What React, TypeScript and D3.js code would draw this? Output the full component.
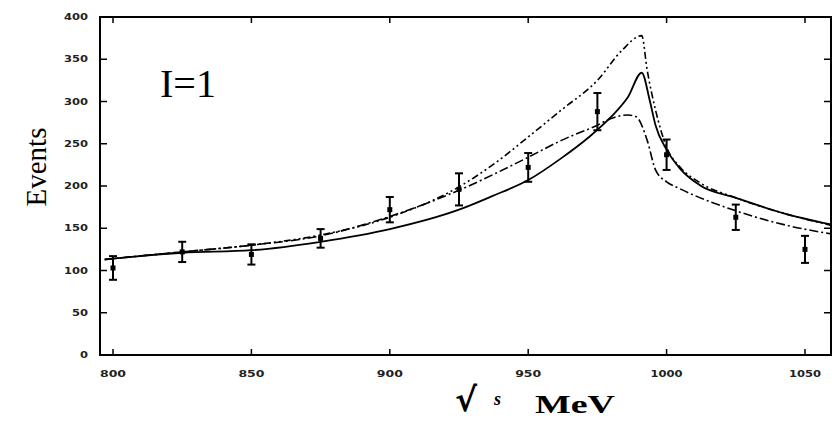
import React from "react";
import * as d3 from "d3";

// measured points (sqrt(s) in MeV, events, error)
const energies = [800, 825, 850, 875, 900, 925, 950, 975, 1000, 1025, 1050];
const events = [103, 122, 119, 138, 172, 196, 222, 288, 237, 163, 125];
const errors = [14, 12, 12, 11, 15, 19, 17, 22, 18, 15, 16];

// fit curves
const solidX = [797, 800, 825, 850, 875, 900, 925, 937, 950, 962, 972, 980, 986, 991, 994, 996, 1000, 1005, 1012, 1025, 1042, 1060];
const solidY = [113, 114, 121, 124, 134, 149, 172, 188, 207, 233, 258, 282, 305, 334, 300, 272, 243, 220, 201, 186, 168, 154];

const dashDotDotX = [797, 800, 825, 850, 875, 900, 925, 938, 950, 962, 975, 984, 991, 993, 996, 1000, 1005, 1012, 1025, 1042, 1060];
const dashDotDotY = [113, 114, 122, 130, 142, 163, 199, 227, 258, 290, 325, 361, 378, 337, 290, 246, 222, 204, 186, 168, 153];

const dashDotX = [797, 800, 825, 850, 875, 900, 925, 950, 962, 975, 980, 986, 989, 993, 996, 1000, 1004, 1010, 1022, 1044, 1060];
const dashDotY = [113, 114, 122, 130, 141, 164, 195, 234, 254, 272, 280, 284, 282, 254, 219, 205, 198, 189, 174, 153, 143];

const xTicks = [800, 850, 900, 950, 1000, 1050];
const yTicks = [0, 50, 100, 150, 200, 250, 300, 350, 400];

const W = 832;
const H = 422;
const margin = { left: 100, right: 1, top: 17, bottom: 67 };

const App: React.FC = () => {
  const x = d3
    .scaleLinear()
    .domain([795.3, 1059.4])
    .range([margin.left, W - margin.right]);
  const y = d3
    .scaleLinear()
    .domain([0, 400])
    .range([H - margin.bottom, margin.top]);

  const line = d3
    .line<[number, number]>()
    .x((d) => x(d[0]))
    .y((d) => y(d[1]))
    .curve(d3.curveMonotoneX);

  const zip = (xs: number[], ys: number[]) =>
    xs.map((v, i) => [v, ys[i]] as [number, number]);

  const x0 = margin.left;
  const x1 = W - margin.right;
  const y0 = H - margin.bottom;
  const y1 = margin.top;

  return (
    <svg
      width={W}
      height={H}
      style={{ position: "absolute", left: 0, top: 0, background: "#fff" }}
    >
      <defs>
        <clipPath id="plot">
          <rect x={x0} y={y1} width={x1 - x0} height={y0 - y1} />
        </clipPath>
      </defs>

      {/* frame */}
      <rect
        x={x0}
        y={y1}
        width={x1 - x0}
        height={y0 - y1}
        fill="none"
        stroke="#000"
        strokeWidth={2}
      />

      {/* ticks, inward on all sides */}
      {xTicks.map((t) => (
        <g key={"xt" + t}>
          <line x1={x(t)} x2={x(t)} y1={y0} y2={y0 - 6} stroke="#000" strokeWidth={1.5} />
          <line x1={x(t)} x2={x(t)} y1={y1} y2={y1 + 6} stroke="#000" strokeWidth={1.5} />
          <text
            x={x(t)}
            y={y0 + 22}
            textAnchor="middle"
            fontFamily="DejaVu Sans"
            fontWeight="bold"
            fontSize={8}
            textLength={t >= 1000 ? 32 : 26}
            lengthAdjust="spacingAndGlyphs"
            fill="#222"
          >
            {t}
          </text>
        </g>
      ))}
      {yTicks.map((t) => (
        <g key={"yt" + t}>
          <line x1={x0} x2={x0 + 7} y1={y(t)} y2={y(t)} stroke="#000" strokeWidth={1.5} />
          <line x1={x1} x2={x1 - 7} y1={y(t)} y2={y(t)} stroke="#000" strokeWidth={1.5} />
          <text
            x={88}
            y={y(t) + 3}
            textAnchor="end"
            fontFamily="DejaVu Sans"
            fontWeight="bold"
            fontSize={8}
            textLength={String(t).length * 8}
            lengthAdjust="spacingAndGlyphs"
            fill="#222"
          >
            {t}
          </text>
        </g>
      ))}

      {/* curves */}
      <g clipPath="url(#plot)" fill="none" stroke="#000">
        <path d={line(zip(solidX, solidY)) || ""} strokeWidth={1.8} />
        <path
          d={line(zip(dashDotDotX, dashDotDotY)) || ""}
          strokeWidth={1.6}
          strokeDasharray="7,3,2,3,2,3"
        />
        <path
          d={line(zip(dashDotX, dashDotY)) || ""}
          strokeWidth={1.6}
          strokeDasharray="9,3,2,3"
        />
      </g>

      {/* data points with error bars */}
      {energies.map((e, i) => {
        const cx = x(e);
        const top = y(events[i] + errors[i]);
        const bot = y(events[i] - errors[i]);
        return (
          <g key={"p" + e} stroke="#000" strokeWidth={2}>
            <line x1={cx} x2={cx} y1={top} y2={bot} />
            <line x1={cx - 4} x2={cx + 4} y1={top} y2={top} />
            <line x1={cx - 4} x2={cx + 4} y1={bot} y2={bot} />
            <rect x={cx - 2.5} y={y(events[i]) - 2.5} width={5} height={5} fill="#000" stroke="none" />
          </g>
        );
      })}

      {/* labels */}
      <text x={160} y={97} fontFamily="Liberation Serif" fontSize={40} fill="#000">
        I=1
      </text>
      <text
        transform={`translate(46,167) rotate(-90)`}
        textAnchor="middle"
        fontFamily="Liberation Serif"
        fontSize={29}
        fill="#000"
      >
        Events
      </text>
      <text x={455} y={411} fontFamily="DejaVu Sans" fontWeight="bold" fontSize={33} fill="#000">
        √
      </text>
      <text x={494} y={405} fontFamily="Liberation Serif" fontStyle="italic" fontWeight="bold" fontSize={18} fill="#000">
        s
      </text>
      <text
        x={535}
        y={413}
        fontFamily="Liberation Serif"
        fontWeight="bold"
        fontSize={26}
        textLength={80}
        lengthAdjust="spacingAndGlyphs"
        fill="#000"
      >
        MeV
      </text>
    </svg>
  );
};

export default App;
